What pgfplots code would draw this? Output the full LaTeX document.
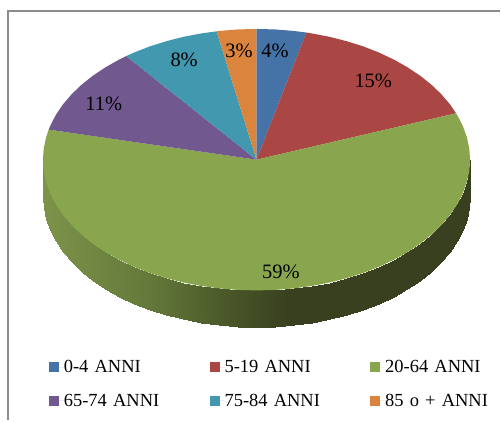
\documentclass[border=0pt]{standalone}
\usepackage{fontspec}
\setmainfont{Liberation Serif}
\usepackage{pgfplots}
\pgfplotsset{compat=1.18}
\definecolor{sliceA}{RGB}{69,114,167}
\definecolor{sliceB}{RGB}{170,70,67}
\definecolor{sliceC}{RGB}{137,165,78}
\definecolor{sliceD}{RGB}{113,88,143}
\definecolor{sliceE}{RGB}{65,152,175}
\definecolor{sliceF}{RGB}{219,132,61}
\definecolor{frameline}{RGB}{140,140,140}
\begin{document}
\begin{tikzpicture}
\begin{axis}[
  width=501pt, height=421pt, scale only axis,
  xmin=0, xmax=501, ymin=0, ymax=421, y dir=reverse,
  hide axis, clip=false,
  colormap={wall}{rgb255(43)=(125,147,73) rgb255(150)=(100,120,58)
    rgb255(240)=(70,82,38) rgb255(290)=(56,64,32) rgb255(471)=(56,64,32)},
  point meta min=43, point meta max=471,
  legend columns=3,
  legend cell align=left,
  legend style={draw=none, fill=none, inner sep=0pt, outer sep=0pt,
    at={(0.0978,0.1425)}, anchor=north west,
    font=\fontsize{18.5}{20}\selectfont,
    /tikz/row sep=20pt, /tikz/column sep=0pt,
    /tikz/column 2/.style={column sep=34pt},
    /tikz/column 4/.style={column sep=34pt},
    nodes={inner sep=0pt, text width=112pt, anchor=west}},
  legend image code/.code={
    \fill[#1] (0pt,-5pt) rectangle (10pt,5pt);
    \path (0pt,0pt) -- (15pt,0pt);},
]
% keep the full canvas in the bounding box
\path (axis cs:0,0) (axis cs:501,421);
% rim of the disc, shaded from left to right
\addplot[surf, shader=interp, mesh/rows=2, point meta=x, forget plot] table {
x y
43 160
43.8 171.4
46.3 182.7
50.3 193.9
55.9 204.8
63.1 215.4
71.7 225.5
81.7 235.1
93.1 244.2
105.7 252.6
119.4 260.3
134.2 267.3
150 273.5
166.6 278.7
183.8 283.1
201.6 286.5
219.8 289
238.3 290.5
257 291
275.7 290.5
294.2 289
312.4 286.5
330.2 283.1
347.4 278.7
364 273.5
379.8 267.3
394.6 260.3
408.3 252.6
420.9 244.2
432.3 235.1
442.3 225.5
450.9 215.4
458.1 204.8
463.7 193.9
467.7 182.7
470.2 171.4
471 160
43 197
43.8 208.4
46.3 219.7
50.3 230.9
55.9 241.8
63.1 252.4
71.7 262.5
81.7 272.1
93.1 281.2
105.7 289.6
119.4 297.3
134.2 304.3
150 310.5
166.6 315.7
183.8 320.1
201.6 323.5
219.8 326
238.3 327.5
257 328
275.7 327.5
294.2 326
312.4 323.5
330.2 320.1
347.4 315.7
364 310.5
379.8 304.3
394.6 297.3
408.3 289.6
420.9 281.2
432.3 272.1
442.3 262.5
450.9 252.4
458.1 241.8
463.7 230.9
467.7 219.7
470.2 208.4
471 197
};
% 0-4
\addplot[fill=sliceA, draw=none] coordinates {
(257,160) (257,29) (275.7,29.5) (294.2,31) (307,32.6)
} --cycle;
% 5-19
\addplot[fill=sliceB, draw=none] coordinates {
(257,160) (307,32.6) (312.4,33.5) (330.2,36.9) (347.4,41.3) (364,46.5)
(379.8,52.7) (394.6,59.7) (408.3,67.4) (420.9,75.8) (432.3,84.9)
(442.3,94.5) (450.9,104.6) (457,113.5)
} --cycle;
% 20-64
\addplot[fill=sliceC, draw=none] coordinates {
(257,160) (457,113.5) (458.1,115.2) (463.7,126.1) (467.7,137.3) (470.2,148.6)
(471,160) (470.2,171.4) (467.7,182.7) (463.7,193.9) (458.1,204.8)
(450.9,215.4) (442.3,225.5) (432.3,235.1) (420.9,244.2) (408.3,252.6)
(394.6,260.3) (379.8,267.3) (364,273.5) (347.4,278.7) (330.2,283.1)
(312.4,286.5) (294.2,289) (275.7,290.5) (257,291) (238.3,290.5)
(219.8,289) (201.6,286.5) (183.8,283.1) (166.6,278.7) (150,273.5)
(134.2,267.3) (119.4,260.3) (105.7,252.6) (93.1,244.2) (81.7,235.1)
(71.7,225.5) (63.1,215.4) (55.9,204.8) (50.3,193.9) (46.3,182.7)
(43.8,171.4) (43,160) (43.8,148.6) (46.3,137.3) (48.8,129.9)
} --cycle;
% 65-74
\addplot[fill=sliceD, draw=none] coordinates {
(257,160) (48.8,129.9) (50.3,126.1) (55.9,115.2) (63.1,104.6) (71.7,94.5)
(81.7,84.9) (93.1,75.8) (105.7,67.4) (119.4,59.7) (126.5,56.2)
} --cycle;
% 75-84
\addplot[fill=sliceE, draw=none] coordinates {
(257,160) (126.5,56.2) (134.2,52.7) (150,46.5) (166.6,41.3) (183.8,36.9)
(201.6,33.5) (217,31.4)
} --cycle;
% 85 and over
\addplot[fill=sliceF, draw=none] coordinates {
(257,160) (217,31.4) (219.8,31) (238.3,29.5) (257,29)
} --cycle;
% chart frame: top and left edges
\addplot[frameline, line width=2pt, forget plot] coordinates {(501,11) (8.1,11) (8.1,421)};
\legend{0-4 ANNI, 5-19 ANNI, 20-64 ANNI, 65-74 ANNI, 75-84 ANNI, 85 o + ANNI}
% percentages on the slices
\begin{scope}[every node/.style={font=\fontsize{20.5}{22}\selectfont, text=black, inner sep=0pt}]
\node at (axis cs:275.5,51) {4\%};
\node at (axis cs:374,81) {15\%};
\node at (axis cs:281.5,272) {59\%};
\node at (axis cs:104,104) {11\%};
\node at (axis cs:184.5,59.5) {8\%};
\node at (axis cs:239.5,51) {3\%};
\end{scope}
\end{axis}
\end{tikzpicture}
\end{document}
